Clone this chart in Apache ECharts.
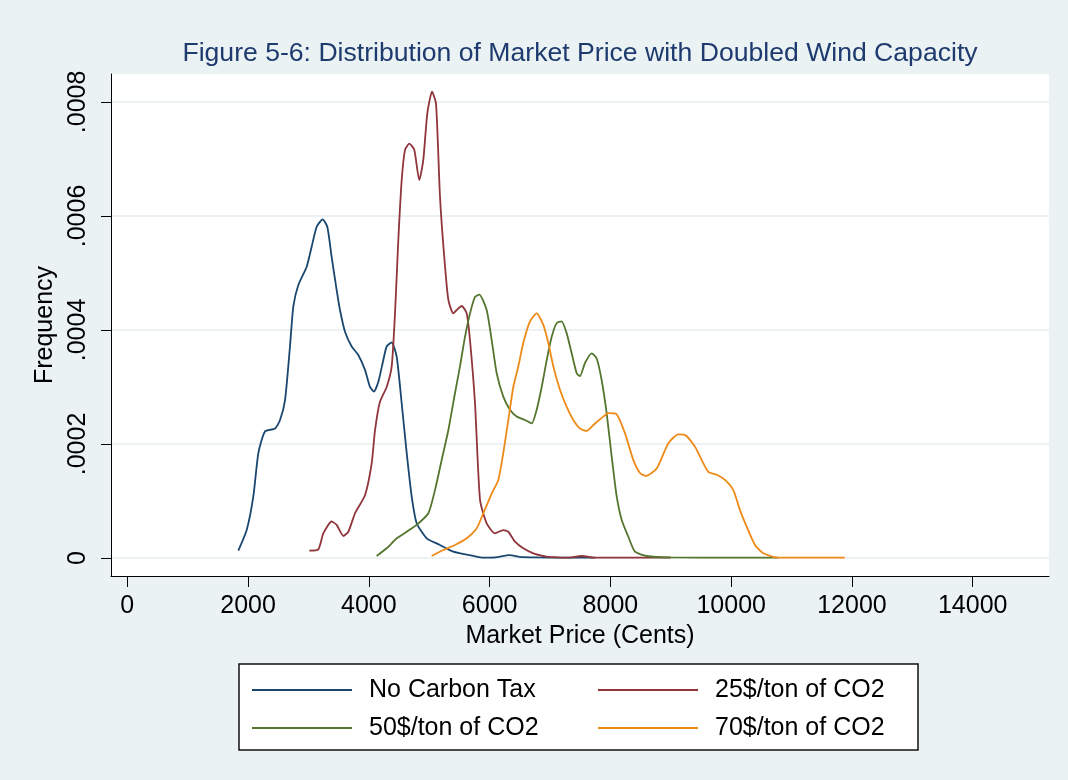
<!DOCTYPE html>
<html>
<head>
<meta charset="utf-8">
<script src="https://cdn.jsdelivr.net/npm/echarts@6/dist/echarts.min.js"></script>
<style>
html,body{margin:0;padding:0;background:#eaf2f3;}
#chart{width:1068px;height:780px;}
</style>
</head>
<body>
<div id="chart"></div>
<script>
const titleText = 'Figure 5-6: Distribution of Market Price with Doubled Wind Capacity';
const xAxisTitle = 'Market Price (Cents)';
const yAxisTitle = 'Frequency';
const seriesNames = ['No Carbon Tax', '25$/ton of CO2', '50$/ton of CO2', '70$/ton of CO2'];
const xTicks = [0, 2000, 4000, 6000, 8000, 10000, 12000, 14000];
const yTicks = [0, 0.0002, 0.0004, 0.0006, 0.0008];

const noTaxData = [
  [1838,0.0000128],[1977,0.000049],[2087,0.000108],[2170,0.000184],[2280,0.000222],[2446,0.000227],
  [2529,0.000242],[2612,0.000277],[2694,0.000371],[2749,0.000441],[2832,0.000479],[2971,0.000511],
  [3053,0.000546],[3136,0.000581],[3235,0.000594],[3312,0.000581],[3384,0.000528],[3467,0.00047],
  [3522,0.000435],[3605,0.000397],[3716,0.000371],[3825,0.000356],[3936,0.00033],[4019,0.0003],
  [4085,0.000292],[4157,0.000309],[4239,0.000347],[4295,0.000371],[4378,0.000378],[4461,0.000353],
  [4544,0.000271],[4627,0.000184],[4709,0.000108],[4792,0.000061],[4958,0.0000345],[5178,0.0000228],
  [5398,0.000011],[5729,0.0000035],[5900,0.0000005],[6100,0.000001],[6330,0.000005],[6500,0.000002],
  [6800,0.000001],[7200,0.0000005],[7500,0.000001],[7750,0.0000005]
];
const co2_25Data = [
  [3014,0.0000128],[3163,0.000015],[3246,0.000043],[3384,0.000064],[3467,0.000058],[3577,0.0000386],
  [3660,0.000046],[3771,0.0000784],[3936,0.00011],[4047,0.000166],[4102,0.000224],[4184,0.000274],
  [4295,0.0003],[4378,0.000336],[4433,0.000429],[4488,0.000558],[4544,0.000663],[4599,0.000716],
  [4670,0.000727],[4752,0.000716],[4835,0.000663],[4901,0.000698],[4968,0.00078],[5046,0.000818],
  [5112,0.000797],[5178,0.000634],[5244,0.000534],[5316,0.000453],[5398,0.000429],[5454,0.000435],
  [5537,0.000442],[5620,0.000429],[5675,0.000382],[5758,0.000271],[5841,0.000102],[5951,0.0000608],
  [6089,0.0000433],[6226,0.000049],[6309,0.000046],[6420,0.0000286],[6557,0.000017],[6723,0.0000082],
  [6944,0.0000023],[7110,0.0000012],[7300,0.0000005],[7524,0.0000035],[7750,0.0000005],[8200,0.0000005],
  [9000,0.0000005]
];
const co2_50Data = [
  [4129,0.0000035],[4295,0.000017],[4461,0.0000345],[4627,0.000046],[4792,0.000058],[4985,0.0000784],
  [5095,0.000119],[5206,0.000172],[5316,0.000224],[5426,0.000289],[5509,0.000336],[5592,0.000388],
  [5675,0.000429],[5758,0.000458],[5830,0.000462],[5951,0.000435],[6034,0.000382],[6117,0.000324],
  [6226,0.000283],[6337,0.00026],[6448,0.000248],[6586,0.000242],[6696,0.000236],[6779,0.00026],
  [6862,0.0003],[6945,0.000347],[7028,0.000388],[7110,0.000412],[7193,0.000415],[7276,0.000394],
  [7359,0.000359],[7442,0.000324],[7496,0.000319],[7579,0.000342],[7690,0.000359],[7773,0.00035],
  [7855,0.000312],[7938,0.000254],[8021,0.000178],[8104,0.000108],[8187,0.0000667],[8296,0.0000374],
  [8407,0.000011],[8601,0.0000035],[9000,0.000001],[10000,0.0000005],[10780,0.0000005]
];
const co2_70Data = [
  [5040,0.0000035],[5233,0.000014],[5426,0.0000228],[5620,0.0000345],[5786,0.000052],[5895,0.0000784],
  [6034,0.000113],[6144,0.000137],[6226,0.000184],[6309,0.000242],[6392,0.0003],[6475,0.000336],
  [6557,0.000377],[6668,0.000415],[6779,0.000429],[6889,0.000409],[6972,0.000377],[7055,0.000336],
  [7165,0.000295],[7276,0.000265],[7386,0.000242],[7496,0.000227],[7607,0.000223],[7745,0.000236],
  [7882,0.000248],[7965,0.000254],[8104,0.000252],[8241,0.000219],[8379,0.000172],[8490,0.000149],
  [8589,0.000144],[8766,0.000157],[8958,0.000201],[9124,0.000217],[9235,0.000216],[9401,0.000195],
  [9511,0.000172],[9621,0.000151],[9760,0.000146],[9897,0.000137],[10035,0.000119],[10146,0.000084],
  [10256,0.000055],[10394,0.0000228],[10532,0.0000082],[10780,0.0000005],[11300,0.0000005],[11880,0.0000005]
];
const seriesData = [noTaxData, co2_25Data, co2_50Data, co2_70Data];
const seriesColors = ['#1a476f', '#90353b', '#55752f', '#ee8a17'];

const FONT = 'Liberation Sans, Arial, sans-serif';
const chart = echarts.init(document.getElementById('chart'));

const legendPos = [[252, 677], [598, 677], [252, 715], [598, 715]];
const legends = seriesNames.map((n, i) => ({
  data: [{ name: n, icon: 'rect' }], left: legendPos[i][0], top: legendPos[i][1], padding: 0,
  itemWidth: 100, itemHeight: 1.8, selectedMode: false,
  textStyle: { fontFamily: FONT, fontSize: 25, color: '#000', lineHeight: 26, padding: [0, 0, 0, 12] }
}));

chart.setOption({
  backgroundColor: '#eaf2f3',
  animation: false,
  title: {
    text: titleText, left: 580, top: 40, padding: 0, textAlign: 'center',
    textStyle: { fontFamily: FONT, fontSize: 26.6, fontWeight: 'normal', color: '#1e3a6e' }
  },
  graphic: [{
    type: 'rect', shape: { x: 239, y: 664, width: 679, height: 86 },
    style: { fill: '#ffffff', stroke: '#111', lineWidth: 1.5 }, z: 0
  }],
  legend: legends,
  grid: { left: 111, right: 19, top: 74, bottom: 204, show: true, backgroundColor: '#ffffff', borderWidth: 0 },
  xAxis: {
    type: 'value', min: -270, max: 15263,
    name: xAxisTitle, nameLocation: 'middle', nameGap: 45,
    nameTextStyle: { fontFamily: FONT, fontSize: 25, color: '#000' },
    axisLine: { show: true, onZero: false, lineStyle: { color: '#000', width: 1 } },
    axisTick: { show: true, length: 11, lineStyle: { color: '#000' }, customValues: xTicks },
    axisLabel: { fontFamily: FONT, fontSize: 25, color: '#000', margin: 18, customValues: xTicks,
      formatter: v => String(Math.round(v)) },
    splitLine: { show: false }
  },
  yAxis: {
    type: 'value', min: -0.0000316, max: 0.000849,
    name: yAxisTitle, nameLocation: 'middle', nameGap: 50,
    nameTextStyle: { fontFamily: FONT, fontSize: 25, color: '#000' },
    axisLine: { show: true, onZero: false, lineStyle: { color: '#000', width: 1 } },
    axisTick: { show: true, length: 10, lineStyle: { color: '#000' }, customValues: yTicks },
    axisLabel: {
      fontFamily: FONT, fontSize: 25, color: '#000', margin: 20, rotate: 90, customValues: yTicks,
      formatter: v => (Math.abs(v) < 1e-12 ? '0' : v.toFixed(4).replace(/^0\./, '.'))
    },
    splitLine: { show: true, lineStyle: { color: '#e6eef1', width: 1.5 } }
  },
  series: seriesNames.map((n, i) => ({
    name: n, type: 'line', data: seriesData[i], showSymbol: false, symbol: 'none',
    smooth: 0.2,
    lineStyle: { color: seriesColors[i], width: 1.8 }, itemStyle: { color: seriesColors[i] },
    clip: false
  }))
});
</script>
</body>
</html>
